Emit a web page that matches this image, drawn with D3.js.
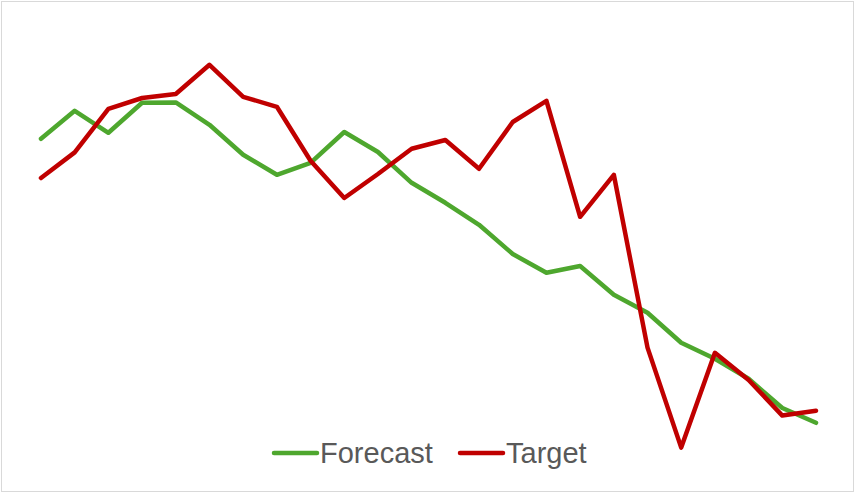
<!DOCTYPE html>
<html>
<head>
<meta charset="utf-8">
<script src="https://cdn.jsdelivr.net/npm/d3@7"></script>
<style>
  html, body { margin: 0; padding: 0; background: #fff; }
  svg { display: block; }
</style>
</head>
<body>
<svg id="chart" width="855" height="494"></svg>
<script>
// Data (24 periods, unitless values)
const periods = d3.range(1, 25);
const forecast = [87.8, 94.8, 89.3, 96.8, 96.9, 91.3, 83.8, 78.8, 81.8, 89.5, 84.5, 76.8,
                  71.8, 66.3, 59.0, 54.3, 56.0, 48.8, 44.3, 36.8, 32.8, 27.8, 20.5, 16.8];
const target   = [78.0, 84.4, 95.3, 98.0, 99.0, 106.3, 98.3, 95.8, 82.3, 73.0, 79.0, 85.3,
                  87.5, 80.3, 92.0, 97.3, 68.3, 78.8, 35.6, 10.6, 34.3, 27.5, 18.6, 19.8];
const seriesNames = ["Forecast", "Target"];
const seriesColors = ["#4EA72E", "#C00000"];

const svg = d3.select("#chart");
const W = 855, H = 494;

// chart border
svg.append("rect")
  .attr("x", 1.5).attr("y", 1.5)
  .attr("width", W - 3).attr("height", H - 4)
  .attr("fill", "#fff")
  .attr("stroke", "#D9D9D9")
  .attr("stroke-width", 1);

const x = d3.scalePoint().domain(periods).range([41, 816]);
const y = d3.scaleLinear().domain([0, 100]).range([490, 90]);

const line = d3.line()
  .x((d, i) => x(periods[i]))
  .y(d => y(d));

[forecast, target].forEach((vals, k) => {
  svg.append("path")
    .datum(vals)
    .attr("d", line)
    .attr("fill", "none")
    .attr("stroke", seriesColors[k])
    .attr("stroke-width", 4.5)
    .attr("stroke-linejoin", "round")
    .attr("stroke-linecap", "round");
});

// legend
const legend = svg.append("g").attr("font-family", "'Liberation Sans', Arial, sans-serif")
  .attr("font-size", 29).attr("fill", "#595959");
const legendX = [274, 460];
seriesNames.forEach((name, k) => {
  const g = legend.append("g").attr("transform", `translate(${legendX[k]},453)`);
  g.append("line").attr("x1", 0).attr("x2", 43).attr("y1", 0).attr("y2", 0)
    .attr("stroke", seriesColors[k]).attr("stroke-width", 4.5).attr("stroke-linecap", "round");
  g.append("text").attr("x", 46).attr("y", 10).text(name);
});
</script>
</body>
</html>
